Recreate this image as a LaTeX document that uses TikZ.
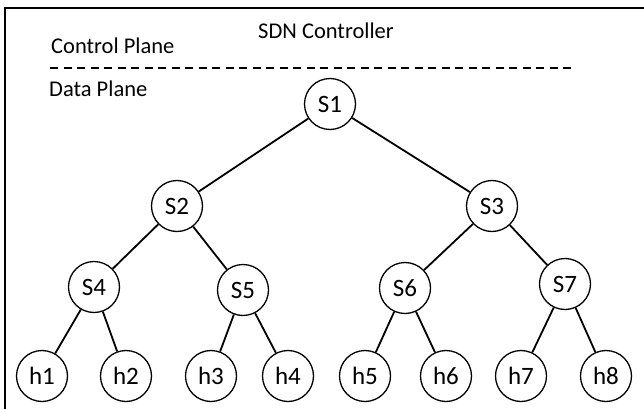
\documentclass[tikz,border=0pt]{standalone}
\usepackage{fontspec}
\setmainfont{Carlito}
\begin{document}
\begin{tikzpicture}[x=1pt,y=-1pt,
  sw/.style={circle,draw,line width=1.3pt,minimum size=51pt,inner sep=0pt,font=\fontsize{25}{28}\selectfont},
  link/.style={line width=1.8pt},
  lbl/.style={font=\fontsize{22.5}{26}\selectfont,inner sep=0pt}]
\useasboundingbox (0,0) rectangle (644,409);
\draw[line width=1.8pt] (5,409) -- (5,8) -- (644,8);
\node[lbl] (ctrl) at (326,31) {SDN Controller};
\node[lbl,anchor=west] (cp) at (51,46) {Control Plane};
\node[lbl,anchor=west] (dp) at (49,89) {Data Plane};
\coordinate (dl) at (50,68);
\coordinate (dr) at (576,68);
\draw[line width=1.6pt,dash pattern=on 8pt off 5.5pt] (dl) -- (dr);
\node[sw] (S1) at (330,104) {S1};
\node[sw] (S2) at (177,206) {S2};
\node[sw] (S3) at (492,206) {S3};
\node[sw] (S4) at (94,287) {S4};
\node[sw] (S5) at (243,290) {S5};
\node[sw] (S6) at (405,288) {S6};
\node[sw] (S7) at (565,284) {S7};
\node[sw] (h1) at (42,376) {h1};
\node[sw] (h2) at (126,376) {h2};
\node[sw] (h3) at (211,376) {h3};
\node[sw] (h4) at (288,376) {h4};
\node[sw] (h5) at (365,376) {h5};
\node[sw] (h6) at (446,376) {h6};
\node[sw] (h7) at (521,376) {h7};
\node[sw] (h8) at (606,376) {h8};
\draw[link] (S1) -- (S2);
\draw[link] (S1) -- (S3);
\draw[link] (S2) -- (S4);
\draw[link] (S2) -- (S5);
\draw[link] (S3) -- (S6);
\draw[link] (S3) -- (S7);
\draw[link] (S4) -- (h1);
\draw[link] (S4) -- (h2);
\draw[link] (S5) -- (h3);
\draw[link] (S5) -- (h4);
\draw[link] (S6) -- (h5);
\draw[link] (S6) -- (h6);
\draw[link] (S7) -- (h7);
\draw[link] (S7) -- (h8);
\end{tikzpicture}
\end{document}
